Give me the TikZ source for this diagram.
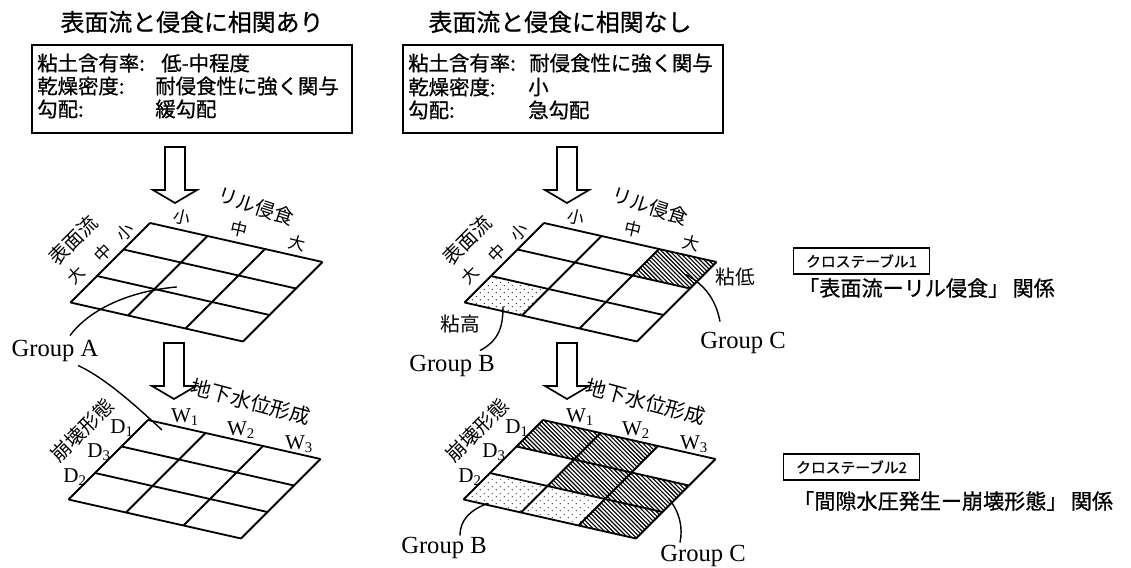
\documentclass[tikz,border=0pt]{standalone}
\usepackage{fontspec}
\setmainfont{Liberation Serif}
\newfontfamily\jp{Noto Sans CJK JP}
\newfontfamily\jpb[FakeBold=0.8]{Noto Sans CJK JP}
\usetikzlibrary{patterns,calc,shadows}

\pgfdeclarepatternformonly{hatch}{\pgfqpoint{-1pt}{-1pt}}{\pgfqpoint{4pt}{4pt}}{\pgfqpoint{3pt}{3pt}}{%
  \pgfsetlinewidth{0.8pt}
  \pgfpathmoveto{\pgfqpoint{0pt}{3pt}}
  \pgfpathlineto{\pgfqpoint{3.1pt}{-0.1pt}}
  \pgfusepath{stroke}}
\pgfdeclarepatternformonly{sparsedots}{\pgfpointorigin}{\pgfqpoint{6pt}{5pt}}{\pgfqpoint{6pt}{5pt}}{%
  \pgfpathcircle{\pgfqpoint{1pt}{1pt}}{0.45pt}
  \pgfpathcircle{\pgfqpoint{4pt}{3.5pt}}{0.45pt}
  \pgfusepath{fill}}

\begin{document}
\begin{tikzpicture}[x=0.25mm,y=-0.25mm,
    title/.style={font=\jpb\fontsize{17}{17}\selectfont},
    boxtext/.style={anchor=west,inner sep=0pt,font=\jpb\fontsize{14.5}{14.5}\selectfont},
    axis/.style={font=\jp\fontsize{12}{12}\selectfont,inner sep=0pt},
    axisbig/.style={font=\jp\fontsize{14}{14}\selectfont,inner sep=0pt},
    latin/.style={font=\fontsize{15}{15}\selectfont,inner sep=0pt},
    group/.style={font=\fontsize{17.5}{17.5}\selectfont,inner sep=1pt},
    rel/.style={anchor=west,font=\jpb\fontsize{15}{15}\selectfont,inner sep=0pt},
    tabbox/.style={anchor=west,draw,fill=white,line width=0.8pt,font=\jpb\fontsize{10.5}{10.5}\selectfont,
      inner xsep=9pt,inner ysep=4.5pt,drop shadow={shadow xshift=0.6pt,shadow yshift=-0.6pt,opacity=1,fill=black}},
    gridline/.style={line width=1.3pt},
    blockarrow/.style={line width=1.2pt,fill=white},
    lead/.style={line width=1pt}]
\useasboundingbox (0,0) rectangle (1131,568);

% titles and condition boxes
\node[title] (LT) at (192,22) {表面流と侵食に相関あり};
\node[title] (RT) at (560,22) {表面流と侵食に相関なし};
\node[draw,line width=1pt,minimum width=80mm,minimum height=22mm] (LB) at (192,89) {};
\node[draw,line width=1pt,minimum width=80mm,minimum height=22mm] (RB) at (563,89) {};
\node[boxtext] (LK1) at (37,63) {粘土含有率:};
\node[boxtext] (LV1) at (161,63) {低-中程度};
\node[boxtext] (LK2) at (37,86) {乾燥密度:};
\node[boxtext] (LV2) at (155,86) {耐侵食性に強く関与};
\node[boxtext] (LK3) at (37,109) {勾配:};
\node[boxtext] (LV3) at (155,109) {緩勾配};
\node[boxtext] (RK1) at (408,63) {粘土含有率:};
\node[boxtext] (RV1) at (529,63) {耐侵食性に強く関与};
\node[boxtext] (RK2) at (408,87) {乾燥密度:};
\node[boxtext] (RV2) at (528,87) {小};
\node[boxtext] (RK3) at (408,110) {勾配:};
\node[boxtext] (RV3) at (528,110) {急勾配};

% block arrows
\foreach \ax/\ay in {175/147, 567/147, 174/343, 567/343}
  \draw[blockarrow] (\ax-10,\ay) -- (\ax+10,\ay) -- (\ax+10,\ay+43) -- (\ax+22,\ay+43)
    -- (\ax,\ay+56) -- (\ax-22,\ay+43) -- (\ax-10,\ay+43) -- cycle;

% cross table 1, left
\begin{scope}[shift={(150,223)},x={(14.375mm,-3.25mm)},y={(-6.625mm,-6.625mm)}]
  \foreach \i in {0,...,3} {\draw[gridline] (\i,0) -- (\i,3); \draw[gridline] (0,\i) -- (3,\i);}
  \coordinate (ULa) at (1.29,1.78);
\end{scope}
% cross table 1, right
\begin{scope}[shift={(544,223)},x={(14.375mm,-3.25mm)},y={(-6.625mm,-6.625mm)}]
  \fill[pattern=hatch] (2,0) -- (3,0) -- (3,1) -- (2,1) -- cycle;
  \fill[pattern=sparsedots] (0,2) -- (1,2) -- (1,3) -- (0,3) -- cycle;
  \foreach \i in {0,...,3} {\draw[gridline] (\i,0) -- (\i,3); \draw[gridline] (0,\i) -- (3,\i);}
  \coordinate (URb) at (0.6,2.85);
  \coordinate (URc) at (2.75,0.6);
\end{scope}
% cross table 2, left
\begin{scope}[shift={(148,420)},x={(14.375mm,-3.25mm)},y={(-6.625mm,-6.625mm)}]
  \foreach \i in {0,...,3} {\draw[gridline] (\i,0) -- (\i,3); \draw[gridline] (0,\i) -- (3,\i);}
  \coordinate (LLa) at (0.34,0.21);
\end{scope}
% cross table 2, right
\begin{scope}[shift={(543,420)},x={(14.375mm,-3.25mm)},y={(-6.625mm,-6.625mm)}]
  \fill[pattern=hatch] (0,0) -- (2,0) -- (2,1) -- (0,1) -- cycle;
  \fill[pattern=hatch] (1,1) -- (3,1) -- (3,2) -- (1,2) -- cycle;
  \fill[pattern=hatch] (2,2) -- (3,2) -- (3,3) -- (2,3) -- cycle;
  \fill[pattern=sparsedots] (0,2) -- (2,2) -- (2,3) -- (0,3) -- cycle;
  \foreach \i in {0,...,3} {\draw[gridline] (\i,0) -- (\i,3); \draw[gridline] (0,\i) -- (3,\i);}
  \coordinate (LRb) at (0.4,2.95);
  \coordinate (LRc) at (2.9,1.55);
\end{scope}

% axis labels, table 1
\foreach \dx/\nm in {0/l, 394/r} {
  \node[axisbig,rotate=45] (sf\nm) at (73+\dx,240) {表面流};
  \node[axis,rotate=45] (rs\nm) at (125+\dx,232) {小};
  \node[axis,rotate=45] (rm\nm) at (103+\dx,253) {中};
  \node[axis,rotate=45] (rl\nm) at (76+\dx,275) {大};
  \node[axis,rotate=-13] (cs\nm) at (182+\dx,217) {小};
  \node[axis,rotate=-13] (cm\nm) at (239+\dx,229) {中};
  \node[axis,rotate=-13] (cl\nm) at (297+\dx,243) {大};
  \node[axisbig,rotate=-18] (ri\nm) at (256+\dx,206) {リル侵食};
}
% axis labels, table 2
\foreach \dx/\nm in {0/l, 395/r} {
  \node[axisbig,rotate=45] (ck\nm) at (82+\dx,430) {崩壊形態};
  \node[latin] (d1\nm) at (122+\dx,428) {D\textsubscript{1}};
  \node[latin] (d3\nm) at (99+\dx,452) {D\textsubscript{3}};
  \node[latin] (d2\nm) at (75+\dx,477) {D\textsubscript{2}};
  \node[latin] (w1\nm) at (185+\dx,417) {W\textsubscript{1}};
  \node[latin] (w2\nm) at (241+\dx,430) {W\textsubscript{2}};
  \node[latin] (w3\nm) at (299+\dx,444) {W\textsubscript{3}};
  \node[axisbig,font=\jp\fontsize{14.5}{14.5}\selectfont,rotate=-15] (gw\nm) at (251+\dx,402) {地下水位形成};
}

% groups and leaders
\node[group] (GA) at (55,351) {Group A};
\node[axisbig] (NH) at (460,324) {粘高};
\node[axisbig] (NL) at (735,277) {粘低};
\node[group] (GB1) at (452,366) {Group B};
\node[group] (GC1) at (743,343) {Group C};
\node[group] (GB2) at (444,548) {Group B};
\node[group] (GC2) at (703,556) {Group C};
\draw[lead] (ULa) .. controls (120,292) and (85,315) .. ($(GA.north)+(15,-3)$);
\draw[lead] ($(GA.south)+(23,2)$) .. controls (105,378) and (135,405) .. (LLa);
\draw[lead] (URb) .. controls (503,325) and (500,340) .. ($(GB1.north)+(28,-3)$);
\draw[lead] (URc) .. controls (705,285) and (716,300) .. ($(GC1.north)+(-23,-9)$);
\draw[lead] (LRb) .. controls (470,510) and (460,520) .. ($(GB2.north)+(16,0)$);
\draw[lead] (LRc) .. controls (680,512) and (683,528) .. ($(GC2.north)+(-23,-1)$);

% cross table tags
\node[tabbox] (CT1) at (793,261) {クロステーブル1};
\node[rel] (CR1) at (798,288) {「表面流ーリル侵食」\,関係};
\node[tabbox] (CT2) at (783,467) {クロステーブル2};
\node[rel] (CR2) at (793,501) {「間隙水圧発生ー崩壊形態」\,関係};
\end{tikzpicture}
\end{document}
